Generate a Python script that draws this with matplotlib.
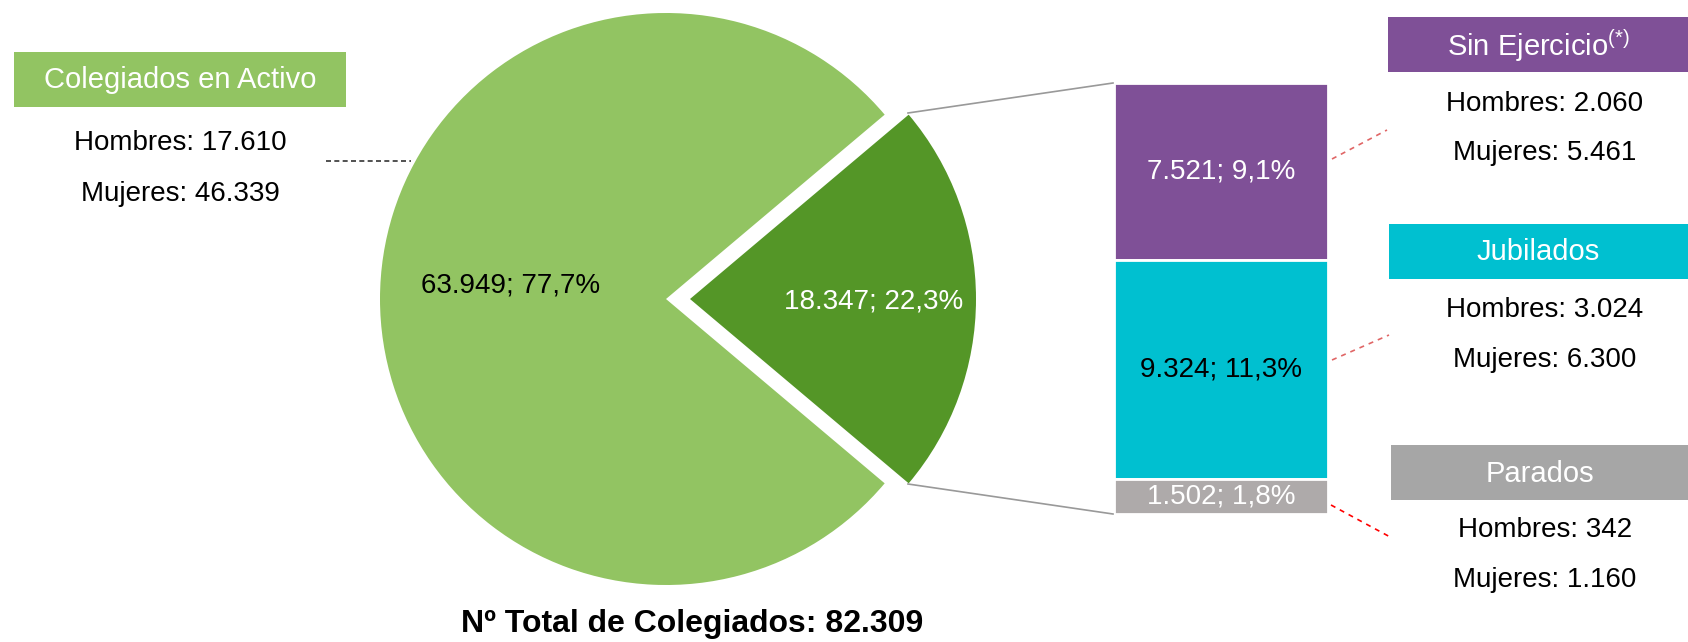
import matplotlib
matplotlib.use("Agg")
import matplotlib.pyplot as plt
from matplotlib.patches import Rectangle

plt.rcParams['font.family'] = ['Liberation Sans', 'DejaVu Sans']
plt.rcParams['mathtext.fontset'] = 'custom'
plt.rcParams['mathtext.rm'] = 'Liberation Sans'

# data
pie_labels = ["Otros", "Colegiados en Activo"]
pie_values = [18347, 63949]
pie_colors = ["#549627", "#92C462"]

bar_labels = ["Sin Ejercicio", "Jubilados", "Parados"]
bar_values = [7521, 9324, 1502]
bar_colors = ["#7F5097", "#00C0D0", "#AEAAAA"]
bar_text_colors = ["white", "black", "white"]
box_colors = ["#7F5097", "#00C0D0", "#A6A6A6"]
hombres = [2060, 3024, 342]
mujeres = [5461, 6300, 1160]

activo_hombres = 17610
activo_mujeres = 46339
total_colegiados = 82309

W, H = 1688, 642


def fmt_num(v):
    return f"{v:,}".replace(",", ".")


def fmt_pct(v, tot):
    return f"{100 * v / tot:.1f}".replace(".", ",") + "%"


fig = plt.figure(figsize=(W / 100, H / 100), dpi=100)
ax = fig.add_axes([0, 0, 1, 1])

total = sum(pie_values)
cx, cy, r = 666, 299, 286
half = 360 * pie_values[0] / total / 2
# explode is in data units here (pixels)
ax.pie(pie_values, colors=pie_colors, startangle=-half, center=(cx, cy), radius=r,
       explode=[24, 0], wedgeprops=dict(linewidth=0))
ax.set_xlim(0, W)
ax.set_ylim(H, 0)
ax.axis("off")

# pie labels
ax.text(874, 301, f"{fmt_num(pie_values[0])}; {fmt_pct(pie_values[0], total)}",
        color="white", fontsize=20, ha="center", va="center")
ax.text(511, 286, f"{fmt_num(pie_values[1])}; {fmt_pct(pie_values[1], total)}",
        color="black", fontsize=20, ha="center", va="center")

# connector lines pie -> bar
ax.plot([908, 1113], [113, 83], color="#999999", lw=1.2)
ax.plot([908, 1113], [484, 514], color="#999999", lw=1.2)

# stacked bar
bx0, bx1, by0, by1 = 1114, 1328, 83, 514
ax2 = fig.add_axes([bx0 / W, (H - by1) / H, (bx1 - bx0) / W, (by1 - by0) / H])
bsum = sum(bar_values)
bottom = 0
for v, c, tc in zip(bar_values, bar_colors, bar_text_colors):
    ax2.bar(0, v, bottom=bottom, width=1, color=c, edgecolor="white", linewidth=2)
    ax2.text(0, bottom + v / 2, f"{fmt_num(v)}; {fmt_pct(v, total)}", color=tc,
             fontsize=20, ha="center", va="center")
    bottom += v
ax2.set_xlim(-0.5, 0.5)
ax2.set_ylim(bsum, 0)
ax2.axis("off")

# right side boxes
box_y = [(17, 72), (224, 279), (445, 500)]
hm_y = [(104, 153), (310, 360), (530, 580)]
titles = ["Sin Ejercicio$^{\\mathrm{(*)}}$", "Jubilados", "Parados"]
box_x0 = [1388, 1389, 1391]
for i in range(3):
    y0, y1 = box_y[i]
    ax.add_patch(Rectangle((box_x0[i], y0), W - box_x0[i], y1 - y0, color=box_colors[i], lw=0))
    ax.text((box_x0[i] + W) / 2, (y0 + y1) / 2 + 1, titles[i], color="white", fontsize=21,
            ha="center", va="center")
    ax.text(1545, hm_y[i][0], f"Hombres: {fmt_num(hombres[i])}", fontsize=20,
            ha="center", va="center")
    ax.text(1545, hm_y[i][1], f"Mujeres: {fmt_num(mujeres[i])}", fontsize=20,
            ha="center", va="center")

# dashed leaders
ax.plot([1332, 1387], [159, 130], ls=(0, (3, 3)), color="#E06666", lw=1.2)
ax.plot([1332, 1389], [360, 335], ls=(0, (3, 3)), color="#E06666", lw=1.2)
ax.plot([1331, 1392], [505, 538], ls=(0, (3, 3)), color="red", lw=1.2)
ax.plot([326, 411], [161, 161], ls=(0, (3, 2)), color="#333333", lw=1.2)

# left box
ax.add_patch(Rectangle((14, 52), 332, 55, color="#92C462", lw=0))
ax.text(180, 80, "Colegiados en Activo", color="white", fontsize=21, ha="center", va="center")
ax.text(180, 143, f"Hombres: {fmt_num(activo_hombres)}", fontsize=20, ha="center", va="center")
ax.text(180, 194, f"Mujeres: {fmt_num(activo_mujeres)}", fontsize=20, ha="center", va="center")

ax.text(692, 624, f"Nº Total de Colegiados: {fmt_num(total_colegiados)}", fontsize=23,
        fontweight="bold", ha="center", va="center")

fig.savefig("out.png", dpi=100)
